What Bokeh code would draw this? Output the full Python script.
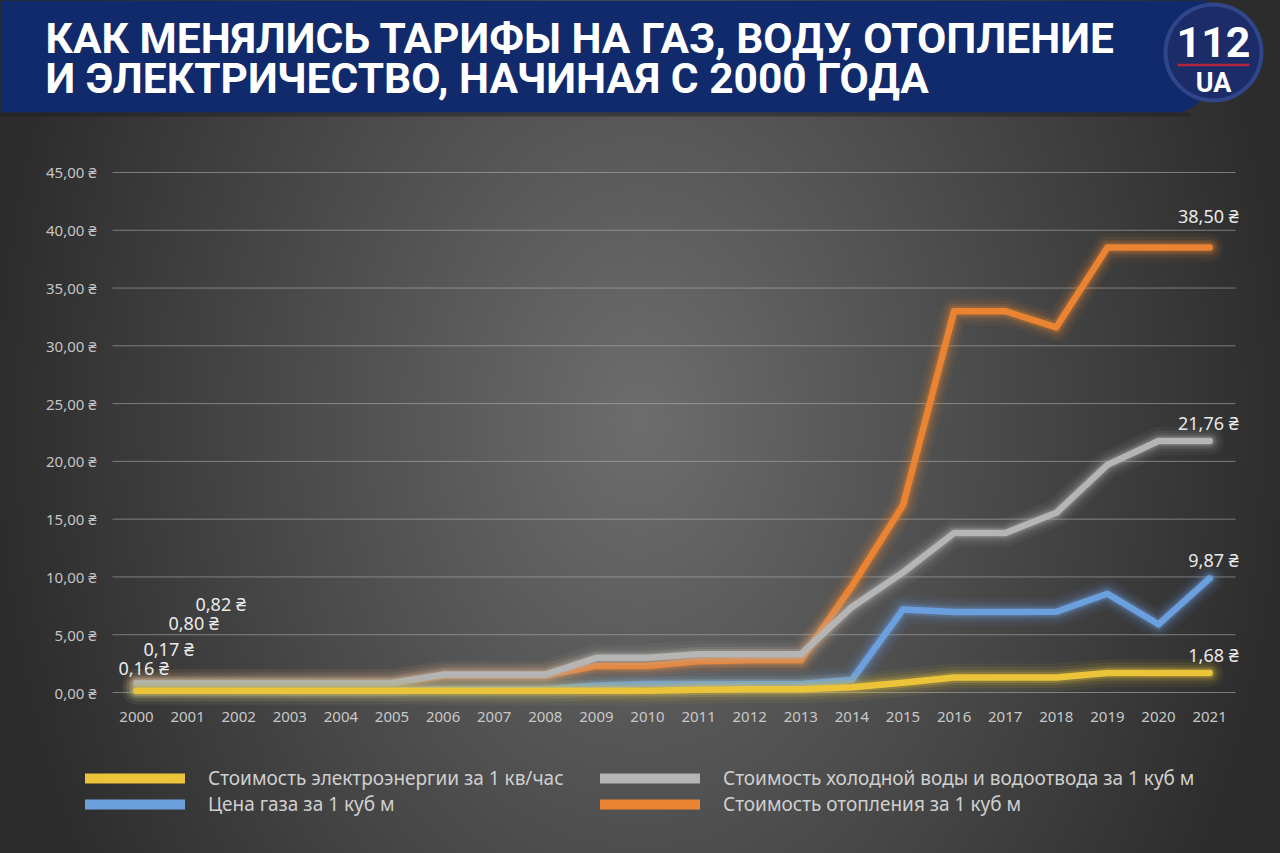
import numpy as np
from bokeh.plotting import figure
from bokeh.models import ColumnDataSource, Legend, LegendItem, LabelSet
from bokeh.core.properties import value
from bokeh.embed import file_html
from bokeh.resources import INLINE

# ---------------- data ----------------
title_line1 = "КАК МЕНЯЛИСЬ ТАРИФЫ НА ГАЗ, ВОДУ, ОТОПЛЕНИЕ"
title_line2 = "И ЭЛЕКТРИЧЕСТВО, НАЧИНАЯ С 2000 ГОДА"

years = [2000, 2001, 2002, 2003, 2004, 2005, 2006, 2007, 2008, 2009, 2010,
         2011, 2012, 2013, 2014, 2015, 2016, 2017, 2018, 2019, 2020, 2021]
year_labels = ["2000", "2001", "2002", "2003", "2004", "2005", "2006", "2007",
               "2008", "2009", "2010", "2011", "2012", "2013", "2014", "2015",
               "2016", "2017", "2018", "2019", "2020", "2021"]

electricity = [0.16, 0.16, 0.16, 0.16, 0.16, 0.16, 0.16, 0.16, 0.16, 0.16, 0.16,
               0.24, 0.28, 0.28, 0.45, 0.85, 1.30, 1.30, 1.30, 1.68, 1.68, 1.68]
gas = [0.17, 0.17, 0.17, 0.17, 0.17, 0.17, 0.26, 0.30, 0.30, 0.60, 0.73,
       0.73, 0.73, 0.73, 1.10, 7.19, 6.96, 6.96, 6.99, 8.55, 5.90, 9.87]
water = [0.82, 0.82, 0.82, 0.82, 0.82, 0.82, 1.55, 1.55, 1.55, 3.00, 3.00,
         3.30, 3.30, 3.30, 7.40, 10.40, 13.80, 13.80, 15.55, 19.70, 21.76, 21.76]
heating = [0.80, 0.80, 0.80, 0.80, 0.80, 0.80, 1.45, 1.45, 1.45, 2.30, 2.30,
           2.70, 2.80, 2.80, 9.20, 16.20, 33.00, 33.00, 31.60, 38.50, 38.50, 38.50]

series_names = ["Стоимость электроэнергии за 1 кв/час",
                "Цена газа за 1 куб м",
                "Стоимость холодной воды и водоотвода за 1 куб м",
                "Стоимость отопления за 1 куб м"]

y_ticks = [0, 5, 10, 15, 20, 25, 30, 35, 40, 45]
y_tick_labels = ["0,00 ₴", "5,00 ₴", "10,00 ₴", "15,00 ₴", "20,00 ₴",
                 "25,00 ₴", "30,00 ₴", "35,00 ₴", "40,00 ₴", "45,00 ₴"]

logo_top = "112"
logo_bottom = "UA"

# ---------------- layout / styles ----------------
W, H = 1280, 853
PX_YEAR = 51.1          # pixels per year
PX_UNIT = 11.556        # pixels per hryvnia
X_START = years[0] - 136 / PX_YEAR
Y_END = 692 / PX_UNIT


def cx(px):
    return X_START + px / PX_YEAR


def cy(py):
    return Y_END - py / PX_UNIT


C_YELLOW = "#EBC43A"
C_BLUE = "#6C9FDD"
C_GREY = "#B5B5B5"
C_ORANGE = "#EA8433"
TXT_FONT = "Noto Sans"

p = figure(width=W, height=H,
           x_range=(X_START, X_START + W / PX_YEAR),
           y_range=(Y_END - H / PX_UNIT, Y_END),
           output_backend="svg", toolbar_location=None, title=None,
           min_border=0)
p.axis.visible = False
p.grid.visible = False
p.background_fill_alpha = 0
p.border_fill_alpha = 0
p.outline_line_color = None
p.styles = {"background": "radial-gradient(ellipse 650px 900px at 640px 420px, "
                          "#6d6d6d 0%, #2c2c2c 100%)"}

# gridlines
p.segment(x0=cx(112), x1=cx(1235), y0=y_ticks, y1=y_ticks,
          line_color="#b8b8b8", line_alpha=0.55, line_width=1)

# tick labels (axis text)
ytick_src = ColumnDataSource(dict(x=[years[0]] * len(y_ticks), y=y_ticks, text=y_tick_labels))
p.add_layout(LabelSet(x="x", y="y", text="text", source=ytick_src, x_offset=-40,
                      text_align="right", text_baseline="middle",
                      text_font=value(TXT_FONT), text_font_size="15px",
                      text_color="#c4c4c4"))
xtick_src = ColumnDataSource(dict(x=years, y=[0] * len(years), text=year_labels))
p.add_layout(LabelSet(x="x", y="y", text="text", source=xtick_src, y_offset=-24,
                      text_align="center", text_baseline="middle",
                      text_font=value(TXT_FONT), text_font_size="15px",
                      text_color="#c8c8c8"))

# lines with glow (bottom -> top)
draw = [(heating, C_ORANGE), (water, C_GREY), (gas, C_BLUE), (electricity, C_YELLOW)]
for vals, col in draw:
    src = ColumnDataSource(dict(x=years, y=vals))
    for w, a in [(28, 0.06), (21, 0.09), (15, 0.14), (10.5, 0.24)]:
        p.line("x", "y", source=src, line_width=w, line_color=col, line_alpha=a,
               line_join="round", line_cap="round")
    p.line("x", "y", source=src, line_width=6.5, line_color=col,
           line_join="round", line_cap="round")

# legend (renderers that draw nothing, only used for thicker legend strokes)
nan = float("nan")
leg_r = {}
for name, col in zip(series_names, [C_YELLOW, C_BLUE, C_GREY, C_ORANGE]):
    leg_r[name] = p.line(x=[nan], y=[nan], line_width=10, line_color=col,
                         line_cap="round")


def make_legend(names, loc):
    lg = Legend(items=[LegendItem(label=n, renderers=[leg_r[n]]) for n in names],
                location=loc, orientation="vertical")
    lg.background_fill_alpha = 0
    lg.border_line_color = None
    lg.label_text_font = TXT_FONT
    lg.label_text_font_size = "19px"
    lg.label_text_color = "#cfcfcf"
    lg.glyph_width = 100
    lg.glyph_height = 20
    lg.label_height = 22
    lg.label_standoff = 23
    lg.spacing = 0
    lg.padding = 0
    lg.margin = 0
    return lg


p.add_layout(make_legend([series_names[0], series_names[1]], (85, 36)))
p.add_layout(make_legend([series_names[2], series_names[3]], (600, 36)))


# data labels
def fmt(v):
    return ("%.2f" % v).replace(".", ",") + " ₴"


all_series = [electricity, gas, heating, water]
first_src = ColumnDataSource(dict(
    x=[years[0]] * 4, y=[s[0] for s in all_series],
    text=[fmt(s[0]) for s in all_series],
    dx=[-18, 7, 32, 59], dy=[23, 42, 60, 79]))
last_src = ColumnDataSource(dict(
    x=[years[-1]] * 4, y=[s[-1] for s in all_series],
    text=[fmt(s[-1]) for s in all_series],
    dx=[29, 29, 29, 29], dy=[18, 18, 32, 18]))
for src, align in [(first_src, "left"), (last_src, "right")]:
    p.add_layout(LabelSet(x="x", y="y", text="text", x_offset="dx", y_offset="dy",
                          source=src, text_align=align, text_baseline="middle",
                          text_font=value(TXT_FONT), text_font_size="18px",
                          text_color="#e9e9e9"))

# header band with rounded bottom-right corner
r = 34
ang = np.linspace(0, np.pi / 2, 16)
hx = [0, 1208] + list(1208 - r + r * np.cos(ang)) + [0]
hy = [0, 0] + list(112 - r + r * np.sin(ang)) + [112]
p.patch([cx(v) for v in hx], [cy(v) for v in hy], fill_color="#112a6b",
        line_color=None)
# subtle shadow under the header
p.segment(x0=cx(0), x1=cx(1190), y0=cy(114), y1=cy(114), line_color="#1e1e1e",
          line_alpha=0.5, line_width=4)

p.text(x=[cx(45), cx(45)], y=[cy(38), cy(78)], text=[title_line1, title_line2],
       text_font=value("Roboto"), text_font_style="bold", text_font_size="42.5px",
       text_color="white", text_baseline="middle", text_align="left")

# logo
p.circle(x=[cx(1213)], y=[cy(52)], radius=50, radius_units="screen",
         fill_color="#31468a", line_color=None)
p.circle(x=[cx(1213)], y=[cy(52)], radius=46, radius_units="screen",
         fill_color="#1b2c69", line_color=None)
p.segment(x0=cx(1177), x1=cx(1249), y0=cy(64.5), y1=cy(64.5), line_color="#b3263b",
          line_width=2.5)
p.text(x=[cx(1213)], y=[cy(41)], text=[logo_top], text_font=value("Roboto"),
       text_font_style="bold", text_font_size="43px", text_color="white",
       text_align="center", text_baseline="middle")
p.text(x=[cx(1213)], y=[cy(82)], text=[logo_bottom], text_font=value("Roboto"),
       text_font_style="bold", text_font_size="27px", text_color="white",
       text_align="center", text_baseline="middle")

open("out.html", "w").write(file_html(p, INLINE))
